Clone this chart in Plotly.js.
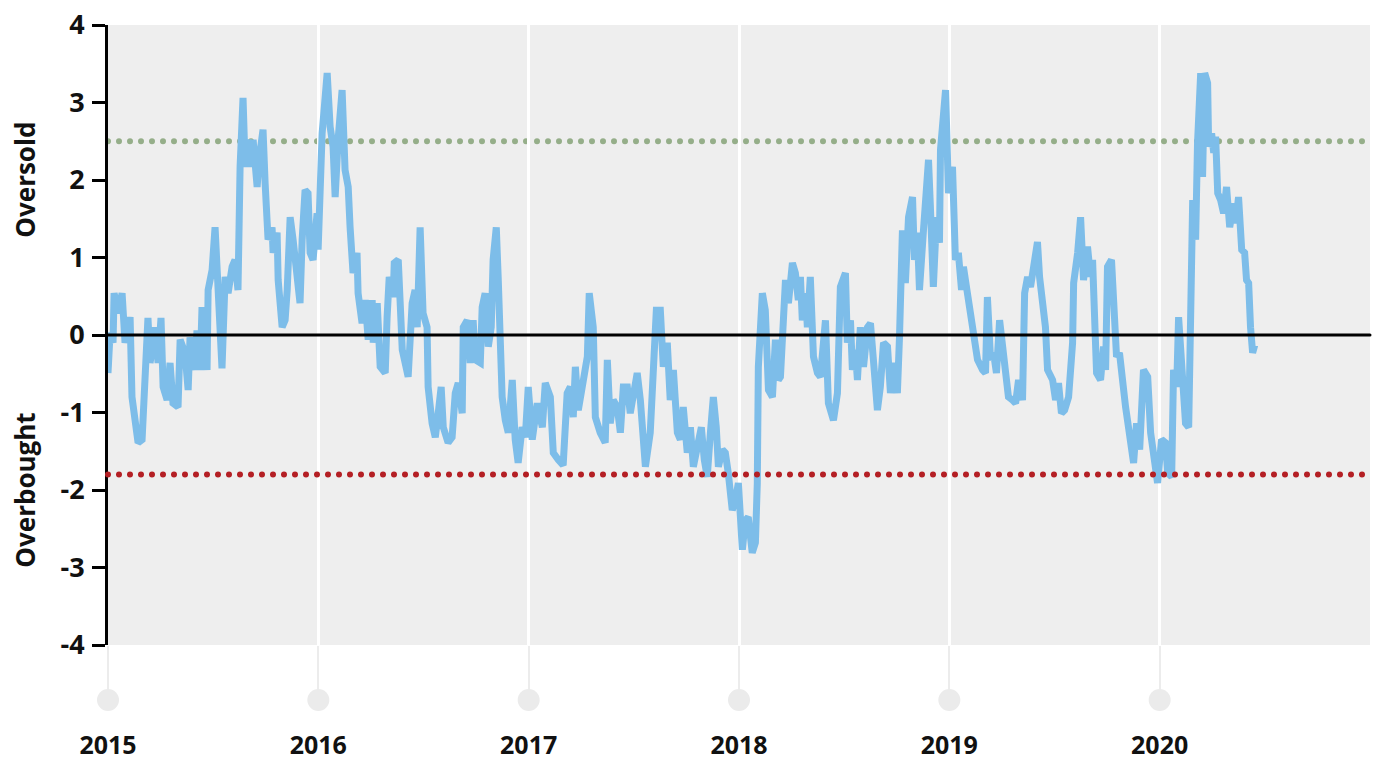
<!DOCTYPE html>
<html>
<head>
<meta charset="utf-8">
<script src="https://cdn.plot.ly/plotly-3.0.1.min.js"></script>
<style>
html,body{margin:0;padding:0;background:#fff;}
#chart{width:1381px;height:760px;}
g.shapelayer path{stroke-linecap:round;}
</style>
</head>
<body>
<div id="chart"></div>
<script>
// Decimal-year positions
const dates = [
2015.000,2015.010,2015.024,2015.029,2015.048,2015.067,2015.081,2015.105,2015.114,2015.143,
2015.162,2015.176,2015.190,2015.200,2015.224,2015.238,2015.252,2015.262,2015.281,2015.295,
2015.309,2015.333,2015.343,2015.366,2015.381,2015.390,2015.414,2015.423,2015.438,2015.447,
2015.471,2015.476,2015.495,2015.509,2015.523,2015.533,2015.542,2015.557,2015.571,2015.590,
2015.604,2015.618,2015.628,2015.642,2015.652,2015.666,2015.685,2015.690,2015.709,2015.718,
2015.737,2015.747,2015.761,2015.780,2015.785,2015.804,2015.809,2015.828,2015.842,2015.852,
2015.866,2015.880,2015.899,2015.913,2015.923,2015.937,2015.951,2015.961,2015.975,2015.994,
2015.999,2016.018,2016.042,2016.056,2016.070,2016.080,2016.094,2016.113,2016.127,2016.142,
2016.151,2016.165,2016.184,2016.189,2016.208,2016.223,2016.237,2016.256,2016.261,2016.280,
2016.294,2016.318,2016.327,2016.337,2016.356,2016.361,2016.380,2016.399,2016.427,2016.446,
2016.460,2016.470,2016.484,2016.498,2016.517,2016.522,2016.541,2016.556,2016.570,2016.584,
2016.594,2016.617,2016.636,2016.651,2016.665,2016.684,2016.689,2016.708,2016.722,2016.736,
2016.746,2016.770,2016.779,2016.793,2016.808,2016.822,2016.831,2016.846,2016.855,2016.874,
2016.889,2016.903,2016.922,2016.936,2016.950,2016.969,2016.984,2016.998,2017.017,2017.041,
2017.065,2017.079,2017.103,2017.117,2017.141,2017.164,2017.183,2017.198,2017.212,2017.222,
2017.236,2017.255,2017.279,2017.288,2017.307,2017.317,2017.340,2017.364,2017.374,2017.388,
2017.402,2017.421,2017.436,2017.450,2017.469,2017.483,2017.497,2017.516,2017.531,2017.555,
2017.578,2017.593,2017.607,2017.626,2017.640,2017.659,2017.673,2017.688,2017.707,2017.721,
2017.735,2017.754,2017.769,2017.783,2017.802,2017.821,2017.835,2017.849,2017.864,2017.878,
2017.892,2017.902,2017.921,2017.935,2017.949,2017.968,2017.983,2017.997,2018.016,2018.030,
2018.044,2018.063,2018.078,2018.087,2018.092,2018.111,2018.125,2018.140,2018.159,2018.173,
2018.187,2018.197,2018.221,2018.235,2018.254,2018.268,2018.282,2018.292,2018.301,2018.316,
2018.325,2018.339,2018.354,2018.373,2018.387,2018.411,2018.425,2018.449,2018.468,2018.482,
2018.506,2018.515,2018.530,2018.539,2018.553,2018.563,2018.577,2018.592,2018.611,2018.625,
2018.639,2018.658,2018.672,2018.687,2018.706,2018.720,2018.734,2018.753,2018.763,2018.777,
2018.791,2018.806,2018.825,2018.834,2018.848,2018.858,2018.877,2018.887,2018.901,2018.910,
2018.924,2018.939,2018.953,2018.958,2018.972,2018.982,2018.996,2019.015,2019.029,2019.043,
2019.058,2019.067,2019.086,2019.101,2019.115,2019.134,2019.158,2019.172,2019.181,2019.196,
2019.210,2019.224,2019.239,2019.258,2019.267,2019.281,2019.300,2019.315,2019.329,2019.348,
2019.358,2019.372,2019.386,2019.400,2019.419,2019.429,2019.443,2019.457,2019.467,2019.491,
2019.505,2019.519,2019.533,2019.548,2019.567,2019.586,2019.591,2019.610,2019.624,2019.638,
2019.657,2019.671,2019.681,2019.690,2019.700,2019.719,2019.733,2019.743,2019.752,2019.771,
2019.781,2019.795,2019.809,2019.824,2019.838,2019.847,2019.862,2019.876,2019.890,2019.905,
2019.923,2019.943,2019.957,2019.971,2019.990,2020.009,2020.028,2020.038,2020.057,2020.066,
2020.081,2020.090,2020.109,2020.123,2020.138,2020.147,2020.157,2020.171,2020.180,2020.195,
2020.204,2020.214,2020.228,2020.233,2020.247,2020.257,2020.266,2020.276,2020.290,2020.304,
2020.318,2020.333,2020.352,2020.361,2020.375,2020.390,2020.404,2020.413,2020.423,2020.432,
2020.442,2020.452
];
// Indicator value at each position
const values = [
-0.49,0.03,-0.10,0.54,0.28,0.54,-0.10,0.23,-0.80,-1.39,
-1.35,-0.45,0.22,-0.36,0.10,-0.36,0.22,-0.67,-0.84,-0.36,
-0.88,-0.93,-0.06,-0.23,-0.71,-0.03,-0.45,0.06,-0.45,0.36,
-0.45,0.58,0.84,1.39,0.45,-0.32,-0.43,0.75,0.54,0.88,
0.97,0.58,2.17,3.06,2.17,2.52,2.17,2.52,1.91,2.26,
2.65,1.96,1.23,1.39,1.06,1.32,0.71,0.10,0.19,0.58,
1.52,1.23,0.62,0.41,1.23,1.87,1.83,1.06,0.97,1.57,
1.10,2.60,3.38,2.69,2.43,1.78,2.52,3.16,2.13,1.91,
1.39,0.80,1.06,0.54,0.15,0.45,-0.06,0.45,-0.10,0.41,
-0.41,-0.49,0.23,0.75,0.49,0.93,0.97,-0.19,-0.54,0.41,
0.58,0.10,1.39,0.28,0.10,-0.67,-1.14,-1.32,-1.01,-0.67,
-1.19,-1.39,-1.32,-0.75,-0.62,-1.01,0.10,0.19,-0.36,0.19,
-0.32,-0.36,0.36,0.54,-0.15,0.10,0.97,1.39,0.75,-0.80,
-1.10,-1.26,-0.58,-1.35,-1.65,-1.19,-1.32,-0.67,-1.35,-0.88,
-1.19,-0.62,-0.80,-1.52,-1.61,-1.68,-0.75,-0.67,-1.06,-0.41,
-0.97,-0.67,-0.28,0.54,0.10,-1.06,-1.26,-1.39,-0.32,-1.14,
-0.84,-0.93,-1.26,-0.67,-0.67,-1.01,-0.75,-0.49,-0.84,-1.70,
-1.26,-0.41,0.32,0.32,-0.41,-0.10,-0.84,-0.45,-1.26,-1.35,
-0.93,-1.52,-1.19,-1.70,-1.45,-1.19,-1.61,-1.83,-1.26,-0.80,
-1.19,-1.70,-1.48,-1.52,-1.78,-2.26,-2.13,-1.91,-2.77,-2.39,
-2.35,-2.81,-2.68,-1.91,-0.41,0.54,0.32,-0.71,-0.80,-0.06,
-0.58,-0.54,0.71,0.41,0.93,0.80,0.45,0.75,0.19,0.54,
0.10,0.75,-0.28,-0.49,-0.54,0.19,-0.88,-1.10,-0.75,0.62,
0.80,-0.10,0.19,-0.45,-0.19,-0.58,0.10,-0.41,0.10,0.15,
-0.32,-0.97,-0.67,-0.10,-0.15,-0.75,-0.36,-0.75,-0.03,1.35,
0.67,1.52,1.78,0.97,1.32,0.58,1.35,1.83,2.26,1.65,
0.62,1.52,1.19,2.39,2.90,3.16,1.83,2.17,0.97,1.06,
0.58,0.88,0.54,0.28,-0.10,-0.32,-0.45,-0.49,0.49,-0.32,
-0.23,-0.49,0.19,-0.32,-0.54,-0.80,-0.84,-0.88,-0.58,-0.84,
0.54,0.75,0.62,0.93,1.20,0.75,0.36,0.10,-0.45,-0.58,
-0.84,-0.62,-1.01,-0.97,-0.80,-0.10,0.67,1.06,1.52,0.71,
1.14,0.75,0.97,0.15,-0.49,-0.58,-0.15,-0.45,0.88,0.97,
0.23,-0.28,-0.23,-0.71,-0.93,-1.10,-1.48,-1.65,-1.14,-1.48,
-0.45,-0.54,-1.26,-1.61,-1.91,-1.35,-1.39,-1.78,-1.83,-0.45,
-0.67,0.23,-0.49,-1.14,-1.19,0.58,1.74,1.23,2.48,3.38,
2.04,3.38,3.25,2.43,2.60,2.35,2.56,1.83,1.74,1.57,
1.91,1.39,1.70,1.44,1.78,1.10,1.06,0.71,0.67,0.10,
-0.23,-0.13
];
const yearTicks = [2015, 2016, 2017, 2018, 2019, 2020];
const yearLabels = ['2015', '2016', '2017', '2018', '2019', '2020'];
const xRange = [2015, 2021];
const oversoldLevel = 2.5;
const overboughtLevel = -1.8;
const yTicks = [-4, -3, -2, -1, 0, 1, 2, 3, 4];
const yTickLabels = ['-4', '-3', '-2', '-1', '0', '1', '2', '3', '4'];
const zoneLabels = ['Oversold', 'Overbought'];
const zoneLabelY = [2, -2];

const trace = {
  x: dates, y: values, type: 'scatter', mode: 'lines',
  line: {color: '#7dbde9', width: 7, shape: 'linear'},
  hoverinfo: 'skip'
};

const shapes = [];
shapes.push({type: 'line', xref: 'paper', x0: 0, x1: 1, yref: 'y', y0: oversoldLevel, y1: oversoldLevel,
  line: {color: '#95ae89', width: 6, dash: '0px,11px'}, layer: 'between'});
shapes.push({type: 'line', xref: 'paper', x0: 0, x1: 1, yref: 'y', y0: overboughtLevel, y1: overboughtLevel,
  line: {color: '#b41f24', width: 6, dash: '0px,11px'}, layer: 'above'});
shapes.push({type: 'line', xref: 'paper', x0: 0, x1: 1, yref: 'y', y0: 0, y1: 0,
  line: {color: '#000000', width: 3}, layer: 'above'});
yearTicks.forEach(function (yr) {
  const px = (yr - xRange[0]) / (xRange[1] - xRange[0]);
  shapes.push({type: 'circle', xref: 'paper', xsizemode: 'pixel', xanchor: px, x0: -11, x1: 11,
    yref: 'paper', ysizemode: 'pixel', yanchor: -0.0887, y0: -11, y1: 11,
    fillcolor: '#ebebeb', line: {width: 0}, layer: 'above'});
});

const annotations = zoneLabels.map(function (t, i) {
  return {text: t, xref: 'paper', x: -0.066, yref: 'y', y: zoneLabelY[i], textangle: -90,
    showarrow: false, xanchor: 'center', yanchor: 'middle',
    font: {family: 'Open Sans', size: 26, color: '#111', weight: 'bold'}};
});

const layout = {
  width: 1381, height: 760,
  margin: {l: 108, r: 11, t: 25, b: 115},
  paper_bgcolor: '#ffffff', plot_bgcolor: '#eeeeee',
  showlegend: false, hovermode: false,
  font: {family: 'Open Sans', color: '#111'},
  xaxis: {
    type: 'linear', range: xRange, tickvals: yearTicks, ticktext: yearLabels,
    showgrid: true, gridcolor: '#ffffff', gridwidth: 3, zeroline: false, showline: false,
    ticks: 'outside', ticklen: 54, tickwidth: 2, tickcolor: '#ececec',
    ticklabelstandoff: 24,
    tickfont: {family: 'Open Sans', size: 25, color: '#111', weight: 'bold'}
  },
  yaxis: {
    range: [-4, 4], tickvals: yTicks, ticktext: yTickLabels, showgrid: false, zeroline: false,
    showline: true, linecolor: '#000', linewidth: 3,
    ticks: 'outside', ticklen: 13, tickwidth: 3, tickcolor: '#000',
    ticklabelstandoff: 2,
    tickfont: {family: 'Open Sans', size: 27, color: '#111', weight: 'bold'}
  },
  shapes: shapes,
  annotations: annotations
};

Plotly.newPlot('chart', [trace], layout, {displayModeBar: false, staticPlot: true});
</script>
</body>
</html>
